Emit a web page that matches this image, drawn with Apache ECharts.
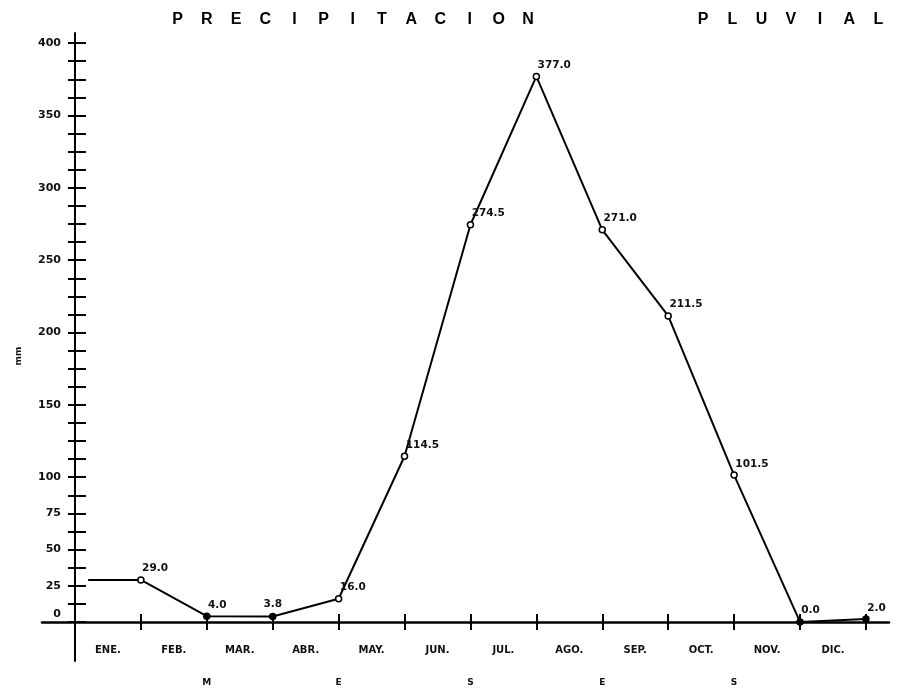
<!DOCTYPE html>
<html><head><meta charset="utf-8">
<script src="https://cdn.jsdelivr.net/npm/echarts@6/dist/echarts.min.js"></script>
<style>html,body{margin:0;padding:0;background:#fff}#c{width:906px;height:689px}</style>
</head><body><div id="c"></div>
<script>
// ---- data ----
const months = ['ENE.','FEB.','MAR.','ABR.','MAY.','JUN.','JUL.','AGO.','SEP.','OCT.','NOV.','DIC.'];
const precipitation = [29.0, 4.0, 3.8, 16.0, 114.5, 274.5, 377.0, 271.0, 211.5, 101.5, 0.0, 2.0];
const monthEnds = [1,2,3,4,5,6,7,8,9,10,11,12];
const monthMids = [0.5,1.5,2.5,3.5,4.5,5.5,6.5,7.5,8.5,9.5,10.5,11.5];
const leadIn = [0.2, 29.0];
const yLabelValues = [0,25,50,75,100,150,200,250,300,350,400];
const yTickValues = [0,12.5,25,37.5,50,62.5,75,87.5,100,112.5,125,137.5,150,162.5,175,187.5,200,
  212.5,225,237.5,250,262.5,275,287.5,300,312.5,325,337.5,350,362.5,375,387.5,400];
const mesesLetters = ['M','E','S','E','S'];
const mesesPos = [2,4,6,8,10];
const titleWord1 = 'PRECIPITACION';
const titleWord2 = 'PLUVIAL';
const filledMonths = [2,3,11,12];

// ---- build ----
const XMIN = -0.5, XMAX = 12.35, YMIN = -27, YMAX = 407;
const font = 'DejaVu Sans';
const cell = 29.2;
const titleText = titleWord1.split('').map(c => '{c|' + c + '}').join('') + '{g| }' +
                  titleWord2.split('').map(c => '{c|' + c + '}').join('');

const seriesData = [{value: leadIn, symbol: 'none', label: {show: false}}].concat(
  precipitation.map((v, i) => {
    const m = monthEnds[i];
    const filled = filledMonths.indexOf(m) >= 0;
    const item = {value: [m, v]};
    if (filled) item.itemStyle = {color: '#000'};
    if (m === 3) item.label = {position: 'top', distance: 3};
    return item;
  })
);

const chart = echarts.init(document.getElementById('c'), null, {renderer: 'canvas'});
chart.setOption({
  animation: false,
  backgroundColor: '#fff',
  title: {
    left: 158, top: 7,
    text: titleText,
    textStyle: {
      rich: {
        c: {width: cell, align: 'center', fontFamily: 'Liberation Sans', fontWeight: 'bold', fontSize: 16, color: '#000'},
        g: {width: cell * 5, align: 'center', fontSize: 16}
      }
    }
  },
  grid: {left: 42, right: 17, top: 33, bottom: 28, containLabel: false, outerBoundsMode: 'none'},
  xAxis: [
    {
      type: 'value', position: 'bottom', min: XMIN, max: XMAX,
      axisLine: {onZero: true, onZeroAxisIndex: 0, lineStyle: {color: '#000', width: 2.5}},
      axisTick: {customValues: monthEnds, length: 8, lineStyle: {color: '#000', width: 2}},
      axisLabel: {customValues: monthMids, formatter: v => months[Math.floor(v)] || '',
        margin: -16, color: '#111', fontFamily: font, fontWeight: 'bold', fontSize: 10},
      splitLine: {show: false}
    },
    {
      type: 'value', position: 'bottom', min: XMIN, max: XMAX,
      axisLine: {show: false, onZero: true, onZeroAxisIndex: 0},
      axisTick: {customValues: monthEnds, inside: true, length: 8, lineStyle: {color: '#000', width: 2}},
      axisLabel: {show: false}, splitLine: {show: false}
    },
    {
      type: 'value', position: 'bottom', min: XMIN, max: XMAX,
      axisLine: {show: false, onZero: true, onZeroAxisIndex: 0},
      axisTick: {show: false},
      axisLabel: {customValues: mesesPos, formatter: v => mesesLetters[mesesPos.indexOf(v)] || '',
        margin: 17, color: '#111', fontFamily: font, fontWeight: 'bold', fontSize: 9},
      splitLine: {show: false}
    }
  ],
  yAxis: [
    {
      type: 'value', position: 'left', min: YMIN, max: YMAX,
      axisLine: {onZero: true, onZeroAxisIndex: 0, lineStyle: {color: '#000', width: 2}},
      axisTick: {customValues: yTickValues, length: 7, lineStyle: {color: '#000', width: 2}},
      axisLabel: {customValues: yLabelValues, margin: -19, color: '#111', fontFamily: font,
        fontWeight: 'bold', fontSize: 11,
        formatter: v => v === 0 ? '{z|0}' : String(v),
        rich: {z: {padding: [0, 0, 16, 0], fontFamily: font, fontWeight: 'bold', fontSize: 11, color: '#111'}}},
      splitLine: {show: false},
      name: 'mm', nameLocation: 'middle', nameGap: 19, nameRotate: 90,
      nameTextStyle: {fontFamily: font, fontWeight: 'bold', fontSize: 9, color: '#111', padding: [0, 18, 0, 0]}
    },
    {
      type: 'value', position: 'left', min: YMIN, max: YMAX,
      axisLine: {show: false, onZero: true, onZeroAxisIndex: 0},
      axisTick: {customValues: yTickValues, inside: true, length: 11, lineStyle: {color: '#000', width: 2}},
      axisLabel: {show: false}, splitLine: {show: false}
    }
  ],
  series: [{
    type: 'line', xAxisIndex: 0, yAxisIndex: 0,
    data: seriesData,
    symbol: 'circle', symbolSize: 6,
    lineStyle: {color: '#000', width: 2},
    itemStyle: {color: '#fff', borderColor: '#000', borderWidth: 1.5},
    label: {show: true, position: [5, -13], formatter: p => p.value[1].toFixed(1),
      fontFamily: font, fontWeight: 'bold', fontSize: 10.5, color: '#111'},
    emphasis: {disabled: true}
  }]
});
</script>
</body></html>
